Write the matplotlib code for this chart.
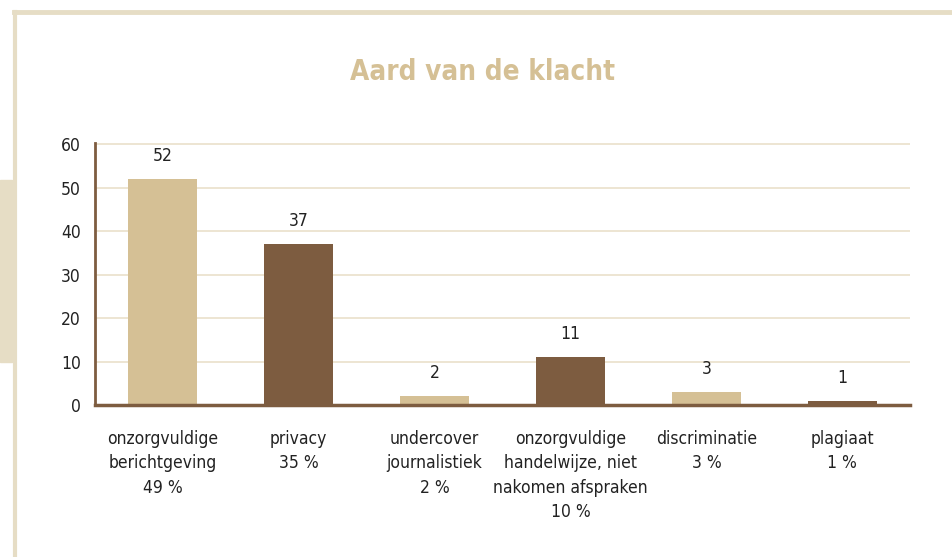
import matplotlib.pyplot as plt
from matplotlib.patches import Rectangle
from matplotlib.lines import Line2D

# Data
categories = [
    "onzorgvuldige\nberichtgeving\n49 %",
    "privacy\n35 %",
    "undercover\njournalistiek\n2 %",
    "onzorgvuldige\nhandelwijze, niet\nnakomen afspraken\n10 %",
    "discriminatie\n3 %",
    "plagiaat\n1 %",
]
counts = [52, 37, 2, 11, 3, 1]
y_ticks = [0, 10, 20, 30, 40, 50, 60]

light = "#D5C095"
dark = "#7D5C40"
frame = "#E6DDC5"
grid = "#EAE0CB"

plt.rcParams["font.family"] = ["DejaVu Sans"]
plt.rcParams["font.stretch"] = "condensed"

fig = plt.figure(figsize=(9.52, 5.57), dpi=100)
ax = fig.add_axes([0.0993, 0.2729, 0.857, 0.4704])

colors = [light if i % 2 == 0 else dark for i in range(len(counts))]
x = range(len(counts))
ax.bar(x, counts, width=0.51, color=colors, zorder=3)

for xi, v in zip(x, counts):
    ax.text(xi, v + 3.2, str(v), ha="center", va="bottom", fontsize=12.5, color="#222222")

ax.set_xlim(-0.5, len(counts) - 0.5)
ax.set_ylim(0, 60.3)
ax.set_yticks(y_ticks)
ax.tick_params(axis="y", length=0, pad=10, labelsize=12.5, labelcolor="#222222")
ax.set_xticks(list(x))
ax.set_xticklabels(categories, fontsize=12.5, color="#222222", linespacing=1.45, va="top")
ax.tick_params(axis="x", length=0, pad=18)
ax.grid(axis="y", color=grid, linewidth=1.2, zorder=0)

for side in ["top", "right"]:
    ax.spines[side].set_visible(False)
ax.spines["left"].set_color(dark)
ax.spines["left"].set_linewidth(2)
ax.spines["bottom"].set_color(dark)
ax.spines["bottom"].set_linewidth(2.5)
ax.spines["bottom"].set_zorder(4)

fig.text(0.507, 0.870, "Aard van de klacht", ha="center", va="center",
         fontsize=20, fontweight="bold", color=light)

# page frame and side tab
fig.add_artist(Line2D([13.5 / 952, 1], [1 - 12 / 557, 1 - 12 / 557], color=frame, linewidth=3.5))
fig.add_artist(Line2D([15 / 952, 15 / 952], [0, 1 - 12 / 557], color=frame, linewidth=3))
fig.add_artist(Rectangle((0, 1 - 362 / 557), 12 / 952, 182 / 557, color=frame,
                         transform=fig.transFigure, zorder=0))

fig.savefig("out.png", dpi=100)
